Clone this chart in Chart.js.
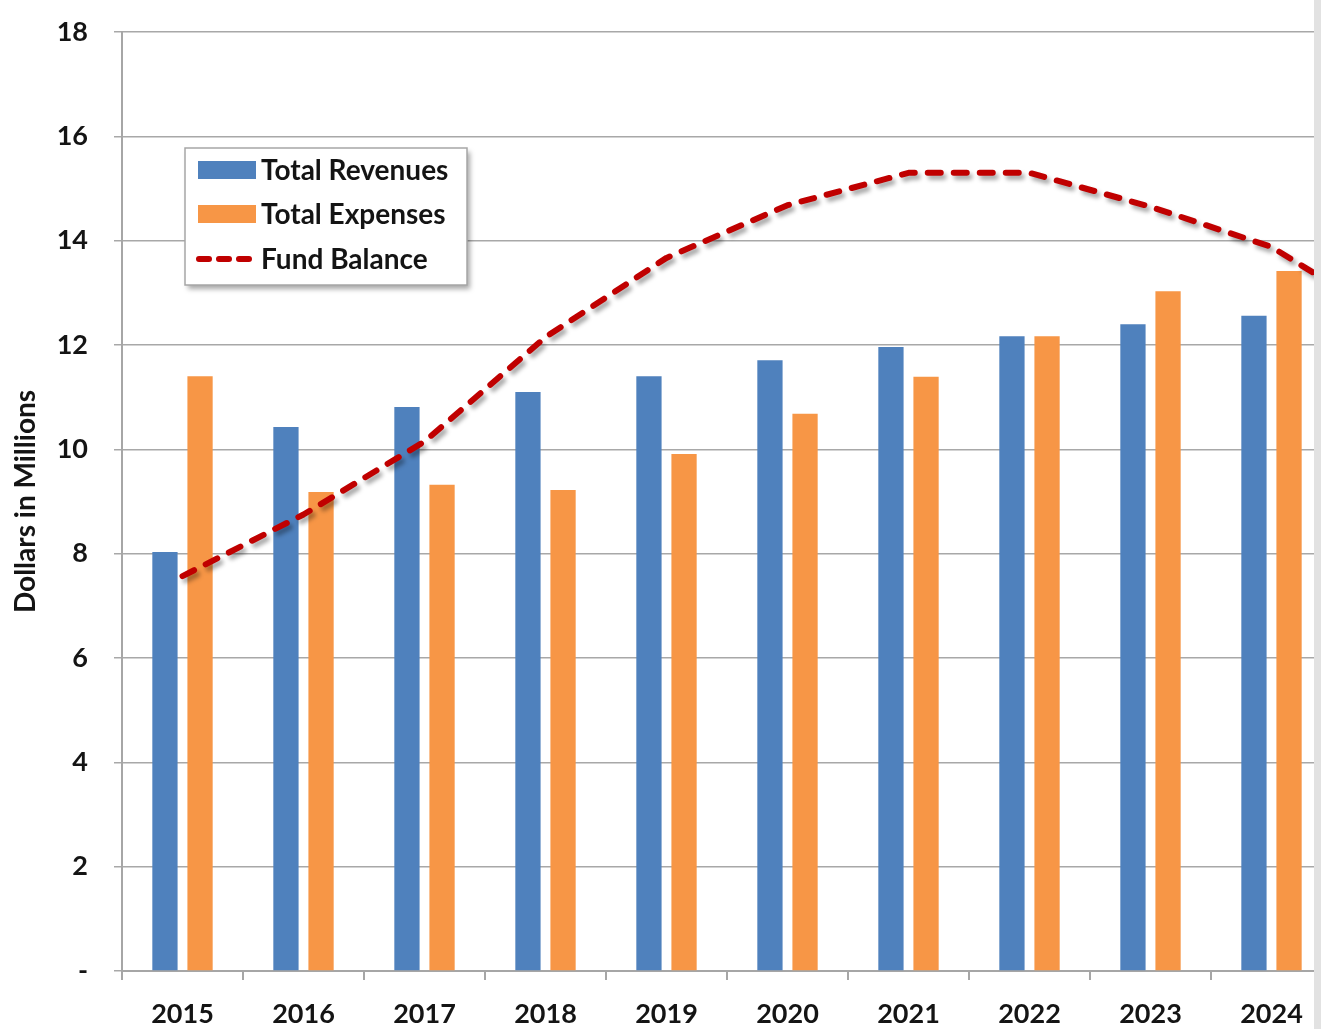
<!DOCTYPE html>
<html>
<head>
<meta charset="utf-8">
<script src="https://cdn.jsdelivr.net/npm/chart.js@4.4.1/dist/chart.umd.min.js"></script>
<style>
  html, body { margin: 0; padding: 0; background: #e2e2e2; overflow: hidden; }
  #wrap { position: absolute; left: 0; top: 0; width: 1314px; height: 1029px; overflow: hidden; background: #fff; }
  #box { position: absolute; left: 0; top: 0; width: 1460px; height: 1029px; }
</style>
</head>
<body>
<div id="wrap"><div id="box"><canvas id="chart"></canvas></div></div>
<script>
// the right edge of the source is cropped, 2025 only shows as the tail of the line
const years = ['2015', '2016', '2017', '2018', '2019', '2020', '2021', '2022', '2023', '2024', '2025'];
const revenues = [8.03, 10.43, 10.81, 11.1, 11.4, 11.71, 11.96, 12.17, 12.4, 12.56, null];
const expenses = [11.4, 9.18, 9.32, 9.22, 9.91, 10.68, 11.39, 12.17, 13.03, 13.42, null];
const fundBalance = [7.57, 8.75, 10.15, 12.15, 13.67, 14.68, 15.3, 15.3, 14.65, 13.88, 12.45];

const FONT = 'Lato, "DejaVu Sans", sans-serif';
const TXT = '#141414';

// drop shadow under the dashed line
const lineShadow = {
  id: 'lineShadow',
  beforeDatasetDraw(chart, args) {
    if (args.index !== 2) return;
    const ctx = chart.ctx;
    ctx.save();
    ctx.shadowColor = 'rgba(0,0,0,0.35)';
    ctx.shadowBlur = 4;
    ctx.shadowOffsetX = 3;
    ctx.shadowOffsetY = 4;
  },
  afterDatasetDraw(chart, args) {
    if (args.index !== 2) return;
    chart.ctx.restore();
  }
};

// boxed legend sitting inside the plot
const boxLegend = {
  id: 'boxLegend',
  afterDraw(chart) {
    const ctx = chart.ctx;
    const x = 185, y = 148, w = 282, h = 137;
    ctx.save();
    ctx.shadowColor = 'rgba(0,0,0,0.35)';
    ctx.shadowBlur = 5;
    ctx.shadowOffsetX = 3;
    ctx.shadowOffsetY = 4;
    ctx.fillStyle = '#fff';
    ctx.fillRect(x, y, w, h);
    ctx.restore();
    ctx.save();
    ctx.strokeStyle = '#a6a6a6';
    ctx.lineWidth = 1.5;
    ctx.strokeRect(x, y, w, h);
    ctx.font = 'bold 28px ' + FONT;
    ctx.textBaseline = 'middle';
    ctx.fillStyle = TXT;
    const rows = [170, 214, 259];
    chart.data.datasets.forEach((ds, i) => {
      const ry = rows[i];
      if (ds.type === 'line') {
        ctx.strokeStyle = ds.borderColor;
        ctx.lineWidth = 6;
        ctx.lineCap = 'round';
        ctx.setLineDash([10, 10]);
        ctx.beginPath();
        ctx.moveTo(199, ry);
        ctx.lineTo(249, ry);
        ctx.stroke();
        ctx.setLineDash([]);
      } else {
        ctx.fillStyle = ds.backgroundColor;
        ctx.fillRect(198, ry - 9, 58, 18);
      }
      ctx.fillStyle = TXT;
      ctx.fillText(ds.label, 261, ry + 1);
    });
    ctx.restore();
  }
};

new Chart(document.getElementById('chart'), {
  data: {
    labels: years,
    datasets: [
      {
        type: 'bar', label: 'Total Revenues', data: revenues,
        backgroundColor: '#4f81bd', categoryPercentage: 0.58, barPercentage: 0.72, order: 2
      },
      {
        type: 'bar', label: 'Total Expenses', data: expenses,
        backgroundColor: '#f79646', categoryPercentage: 0.58, barPercentage: 0.72, order: 2
      },
      {
        type: 'line', label: 'Fund Balance', data: fundBalance,
        borderColor: '#c00000', borderWidth: 6, borderDash: [13, 13], borderCapStyle: 'round',
        borderJoinStyle: 'round', pointRadius: 0, tension: 0, fill: false, order: 1
      }
    ]
  },
  options: {
    responsive: true,
    maintainAspectRatio: false,
    animation: false,
    layout: { padding: { left: 0, right: 7, top: 32, bottom: 0 } },
    plugins: { legend: { display: false }, tooltip: { enabled: false } },
    scales: {
      x: {
        offset: true,
        grid: { offset: true, drawOnChartArea: false, color: '#a6a6a6', lineWidth: 2, tickLength: 9 },
        border: { color: '#a6a6a6', width: 2 },
        ticks: { color: TXT, font: { family: FONT, size: 27, weight: 'bold' }, padding: 18, maxRotation: 0 },
        afterFit: s => { s.height = 58; }
      },
      y: {
        min: 0, max: 18,
        grid: { color: '#a8a8a8', lineWidth: 1.5, tickLength: 8 },
        border: { color: '#a6a6a6', width: 2 },
        ticks: {
          stepSize: 2, color: TXT, padding: 26,
          font: { family: FONT, size: 27, weight: 'bold' },
          callback: v => v === 0 ? '-' : v
        },
        title: {
          display: true, text: 'Dollars in Millions', color: TXT,
          font: { family: FONT, size: 28, weight: 'bold' }, padding: { top: 9, bottom: 0 }
        },
        afterFit: s => { s.width = 122; s.paddingTop = 0; s.paddingBottom = 0; }
      }
    }
  },
  plugins: [lineShadow, boxLegend]
});
</script>
</body>
</html>
